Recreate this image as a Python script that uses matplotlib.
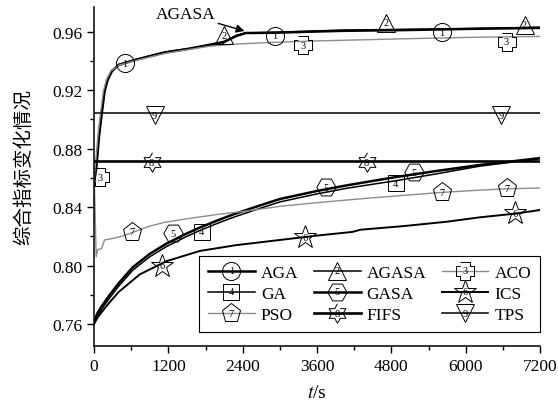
import numpy as np
import matplotlib
matplotlib.use('Agg')
import matplotlib.pyplot as plt
from matplotlib.lines import Line2D
from matplotlib.text import Text
from matplotlib.legend_handler import HandlerLine2D
from matplotlib.ticker import MultipleLocator

plt.rcParams['font.family'] = ['Liberation Serif', 'DejaVu Serif']
plt.rcParams['mathtext.fontset'] = 'stix'

# curves (t in s, value of the combined index)
t_aga = [0, 40, 80, 125, 170, 220, 290, 400, 500, 700, 1142, 1500, 1870, 2100, 2300, 2450, 2900, 4000, 5000, 6000, 7200]
aga = [0.856, 0.868, 0.888, 0.904, 0.919, 0.927, 0.933, 0.9372, 0.9385, 0.941, 0.9457, 0.948, 0.951, 0.953, 0.957, 0.959, 0.9592, 0.9605, 0.961, 0.9618, 0.9625]

t_agasa = [0, 40, 80, 125, 170, 220, 290, 400, 500, 700, 1142, 1500, 1870, 2050, 2150, 2300, 2450, 2900, 4000, 5000, 6000, 7200]
agasa = [0.856, 0.869, 0.889, 0.905, 0.920, 0.928, 0.9335, 0.9375, 0.9388, 0.9412, 0.946, 0.9482, 0.9505, 0.951, 0.954, 0.9575, 0.959, 0.9595, 0.961, 0.9615, 0.962, 0.963]

t_aco = [0, 30, 70, 110, 150, 200, 270, 400, 700, 1142, 1500, 1870, 2300, 2840, 3500, 4940, 6000, 7200]
aco = [0.858, 0.872, 0.892, 0.906, 0.919, 0.927, 0.933, 0.937, 0.9405, 0.945, 0.9475, 0.950, 0.9515, 0.9525, 0.9535, 0.955, 0.956, 0.9567]

t_ga = [0, 50, 120, 255, 400, 630, 900, 1170, 1500, 1710, 2000, 2250, 2600, 3000, 3600, 4100, 4870, 5500, 6230, 6700, 7200]
ga = [0.760, 0.765, 0.770, 0.778, 0.786, 0.797, 0.806, 0.813, 0.820, 0.824, 0.829, 0.833, 0.838, 0.8435, 0.849, 0.853, 0.858, 0.8625, 0.868, 0.8705, 0.873]
gasa = [0.761, 0.767, 0.772, 0.780, 0.788, 0.799, 0.808, 0.815, 0.822, 0.826, 0.831, 0.835, 0.840, 0.8455, 0.851, 0.855, 0.8605, 0.8645, 0.8688, 0.871, 0.8735]

t_ics = [0, 50, 120, 255, 400, 740, 1170, 1710, 2300, 3000, 3600, 4170, 4300, 5000, 5700, 6230, 6800, 7200]
ics = [0.760, 0.764, 0.768, 0.775, 0.782, 0.794, 0.803, 0.810, 0.814, 0.8175, 0.8205, 0.823, 0.8245, 0.827, 0.830, 0.833, 0.8355, 0.838]

t_pso = [0, 35, 60, 120, 170, 300, 450, 610, 900, 1140, 1500, 2000, 2500, 3000, 3600, 4400, 5000, 5612, 6200, 6663, 7200]
pso = [0.868, 0.806, 0.811, 0.8115, 0.8175, 0.8185, 0.820, 0.8225, 0.827, 0.8295, 0.832, 0.835, 0.8375, 0.8405, 0.843, 0.846, 0.848, 0.850, 0.8515, 0.8525, 0.853]

t_flat = [0, 7200]
fifs = [0.8712, 0.8712]
tps = [0.904, 0.904]

# marker positions
mk_aga = ([500, 2920, 5610], [0.9385, 0.957, 0.9594])
mk_agasa = ([2100, 4720, 6950], [0.9575, 0.966, 0.9648])
mk_aco = ([90, 3370, 6660], [0.8605, 0.9505, 0.953])
mk_ga = ([1740, 4872], [0.823, 0.8564])
mk_gasa = ([1280, 3742, 5163], [0.822, 0.8537, 0.8639])
mk_ics = ([1100, 3403, 6793], [0.800, 0.8195, 0.8359])
mk_pso = ([610, 5612, 6663], [0.823, 0.8503, 0.853])
mk_fifs = ([930, 4400], [0.8705, 0.8705])
mk_tps = ([980, 6570], [0.9027, 0.9027])

ang = np.arange(12) * np.pi / 6 + np.pi / 2
rad = np.where(np.arange(12) % 2 == 0, 1.0, 1 / np.sqrt(3))
hexagram = list(zip(rad * np.cos(ang), rad * np.sin(ang)))
a = 0.55
fatcross = [(-a, 1), (a, 1), (a, a), (1, a), (1, -a), (a, -a), (a, -1), (-a, -1),
            (-a, -a), (-1, -a), (-1, a), (-a, a)]

gray = '#8c8c8c'
# name, num, t, y, markers, color, lw, marker, ms
series = [
    ('AGA', '1', t_aga, aga, mk_aga, 'black', 1.8, 'o', 13),
    ('AGASA', '2', t_agasa, agasa, mk_agasa, 'black', 1.1, '^', 13),
    ('ACO', '3', t_aco, aco, mk_aco, gray, 1.0, fatcross, 13),
    ('GA', '4', t_ga, ga, mk_ga, 'black', 1.1, 's', 12),
    ('GASA', '5', t_ga, gasa, mk_gasa, 'black', 1.8, 'H', 14),
    ('ICS', '6', t_ics, ics, mk_ics, 'black', 1.4, '*', 17),
    ('PSO', '7', t_pso, pso, mk_pso, gray, 1.0, 'p', 14),
    ('FIFS', '8', t_flat, fifs, mk_fifs, 'black', 1.9, hexagram, 14),
    ('TPS', '9', t_flat, tps, mk_tps, 'black', 1.1, 'v', 13),
]


class NumHandler(HandlerLine2D):
    def __init__(self, num, **kw):
        super().__init__(**kw)
        self.num = num

    def create_artists(self, legend, orig_handle, xdescent, ydescent,
                       width, height, fontsize, trans):
        arts = super().create_artists(legend, orig_handle, xdescent, ydescent,
                                      width, height, fontsize, trans)
        txt = Text(-xdescent + width / 2, (height - ydescent) / 2, self.num,
                   ha='center', va='center', fontsize=7.5, transform=trans)
        return list(arts) + [txt]


fig = plt.figure(figsize=(5.58, 4.02), dpi=100)
ax = fig.add_axes([94 / 558, 55 / 402, 446 / 558, 339 / 402])

handles = {}
for name, num, tx, ty, mk, col, lw, marker, ms in series:
    ax.plot(tx, ty, color=col, lw=lw, zorder=2)
    ax.plot(mk[0], mk[1], ls='none', marker=marker, ms=ms, mfc='none',
            mec='black', mew=0.7, zorder=3)
    for x, y in zip(mk[0], mk[1]):
        ax.text(x, y, num, ha='center', va='center', fontsize=7.5, zorder=4)
    handles[name] = Line2D([], [], color=col, lw=lw, marker=marker, ms=ms,
                           mfc='none', mec='black', mew=0.7)

order = ['AGA', 'GA', 'PSO', 'AGASA', 'GASA', 'FIFS', 'ACO', 'ICS', 'TPS']
nums = {s[0]: s[1] for s in series}
hmap = {handles[n]: NumHandler(nums[n], numpoints=1) for n in order}
leg = ax.legend([handles[n] for n in order], order, ncol=3, handler_map=hmap,
                loc='lower right', bbox_to_anchor=(540 / 558, 69 / 402),
                bbox_transform=fig.transFigure, borderaxespad=0,
                fontsize=12.5, handlelength=2.7, handletextpad=0.35,
                columnspacing=0.88, borderpad=0.5, labelspacing=0.3,
                fancybox=False, framealpha=1, edgecolor='black', numpoints=1)
leg.get_frame().set_linewidth(0.8)

ax.annotate('AGASA', xy=(2430, 0.9604), xytext=(1960, 0.972), ha='right', va='center',
            fontsize=12.5,
            arrowprops=dict(arrowstyle='-|>', color='black', lw=1.0,
                            mutation_scale=12, shrinkA=0, shrinkB=0))

ax.set_xlim(0, 7200)
ax.set_ylim(0.745, 0.9768)
ax.xaxis.set_major_locator(MultipleLocator(1200))
ax.xaxis.set_minor_locator(MultipleLocator(600))
ax.yaxis.set_major_locator(MultipleLocator(0.04))
ax.yaxis.set_minor_locator(MultipleLocator(0.02))
ax.yaxis.set_major_formatter(plt.FuncFormatter(lambda v, p: '{:.2f}'.format(v)))
ax.tick_params(which='major', direction='out', length=5, width=1, labelsize=12.5)
ax.tick_params(which='minor', direction='out', length=3, width=1)
for s in ['top', 'right']:
    ax.spines[s].set_visible(False)
for s in ['left', 'bottom']:
    ax.spines[s].set_linewidth(1.1)

ax.set_xlabel('$t$/s', fontsize=14, labelpad=7)
ax.set_ylabel('综合指标变化情况', fontsize=14, family=['Noto Sans CJK SC', 'DejaVu Sans'])
ax.yaxis.set_label_coords(-0.135, 0.53)

fig.savefig('out.png', dpi=100)
